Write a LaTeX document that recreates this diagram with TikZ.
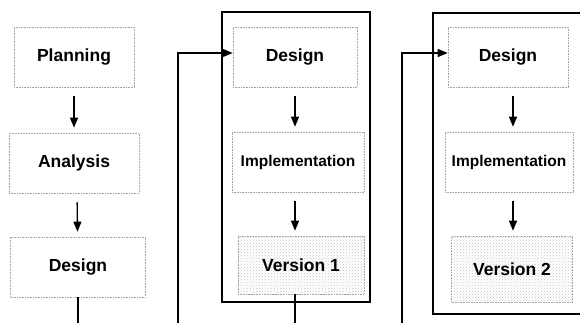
\documentclass[tikz,border=0pt]{standalone}
\usepackage{fontspec}
\setmainfont{Liberation Sans}
\usetikzlibrary{arrows.meta,patterns,positioning}

\begin{document}
\begin{tikzpicture}[x=1pt,y=-1pt,
    stage/.style={draw=gray!70,densely dotted,line width=0.6pt,minimum height=60pt,
      font=\fontsize{17.5}{20}\selectfont\bfseries},
    release/.style={stage,pattern=crosshatch dots,pattern color=gray!45},
    flow/.style={-{Triangle[length=10pt,width=8pt]},line width=1.3pt},
    next/.style={flow,shorten <=9pt,shorten >=5pt},
    frame/.style={line width=1.4pt}]
    \useasboundingbox (0,0) rectangle (580,323);
    \clip (0,0) rectangle (580,323);

    % Planning -> Analysis -> Design
    \node[stage,minimum width=120pt] (planning) at (74,57) {Planning};
    \node[stage,minimum width=130pt] (analysis) at (74,163) {Analysis};
    \node[stage,minimum width=135pt] (design0) at (78,267) {Design};
    \draw[next] (planning) -- (analysis);
    \draw[next] ([xshift=3pt]analysis.south) -- (design0);
    \coordinate (out0) at (78,323);
    \draw[flow,-] (design0) -- (out0);

    % first iteration
    \draw[frame] (222,12) rectangle (370,302);
    \node[stage,minimum width=124pt] (design1) at (295,57) {Design};
    \node[stage,minimum width=132pt,font=\fontsize{15.5}{18}\selectfont\bfseries] (impl1) at (298,162) {Implementation};
    \node[release,minimum width=126pt,minimum height=58pt] (ver1) at (301,265) {Version 1};
    \draw[next] (design1) -- (design1 |- impl1.north);
    \draw[next] (design1 |- impl1.south) -- (design1 |- ver1.north);
    \coordinate (out1) at (295,323);
    \draw[flow,-] (ver1.south -| out1) -- (out1);
    \coordinate (back1) at (178,323);
    \draw[flow] (back1) |- ([yshift=4pt]design1.west);

    % second iteration
    \draw[frame] (433,13) rectangle (600,314);
    \node[stage,minimum width=120pt] (design2) at (508,57) {Design};
    \node[stage,minimum width=128pt,font=\fontsize{15.5}{18}\selectfont\bfseries] (impl2) at (509,162) {Implementation};
    \node[release,minimum width=121pt,minimum height=66pt] (ver2) at (512,269) {Version 2};
    \draw[next] ([xshift=5pt]design2.south) -- ([xshift=5pt]design2.south |- impl2.north);
    \draw[next] ([xshift=4pt]impl2.south) -- ([xshift=4pt]impl2.south |- ver2.north);
    \coordinate (back2) at (402,323);
    \draw[flow] (back2) |- ([yshift=4pt]design2.west);
\end{tikzpicture}
\end{document}
